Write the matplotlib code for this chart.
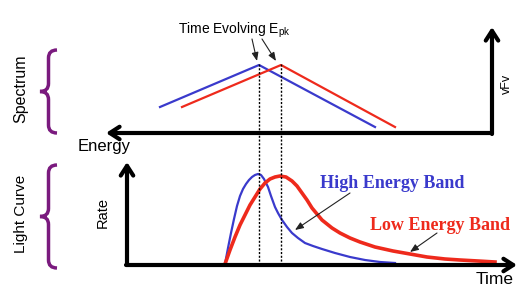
import matplotlib.pyplot as plt
from matplotlib.path import Path
from matplotlib.patches import PathPatch

# spectrum (broken power law), pixel positions
blue_spec_x = [160, 259, 375]
blue_spec_y = [107, 65, 127]
red_spec_x = [182, 281, 395]
red_spec_y = [107, 65, 127]

# light curves
blue_lc_x = [225, 228, 231, 234, 237, 240, 243, 246, 249, 252, 255, 258, 261, 264, 268,
             271, 275, 278, 282, 287, 292, 298, 305, 313, 322, 335, 350, 365, 380, 395]
blue_lc_y = [264, 248, 233, 219, 206, 196, 189, 184, 180, 177, 175, 174, 175, 179, 187,
             196, 207, 213, 220, 227, 233, 238, 243, 246, 249, 253, 257, 260, 262, 263]
red_lc_x = [225, 230, 235, 240, 245, 250, 255, 260, 265, 270, 275, 280, 286, 292, 297,
            302, 307, 312, 317, 322, 327, 332, 340, 350, 360, 375, 393, 410, 427, 445,
            460, 478, 495]
red_lc_y = [264, 250, 237, 225, 215, 205, 197, 189, 183, 179, 177, 176, 177, 181, 186,
            193, 200, 208, 214, 220, 224, 228, 233, 238, 242, 247, 251, 254, 257, 259,
            260, 261, 262]

peak_x = [259, 281]

PURPLE = '#7a1a7e'
BLUE = '#3a3acc'
RED = '#ee2a1c'

fig = plt.figure(figsize=(5.25, 2.89), dpi=100)
ax = fig.add_axes([0, 0, 1, 1])
ax.set_xlim(0, 525)
ax.set_ylim(289, 0)
ax.axis('off')


def brace(x_tip, x_end, y0, y1):
    ym = (y0 + y1) / 2
    xm = (x_tip + x_end) / 2
    verts = [(x_end, y0), (xm, y0), (xm, y0 + 8),
             (xm, ym - 8), (xm, ym), (x_tip, ym),
             (xm, ym), (xm, ym + 8),
             (xm, y1 - 8), (xm, y1), (x_end, y1)]
    codes = [Path.MOVETO, Path.CURVE3, Path.CURVE3,
             Path.LINETO, Path.CURVE3, Path.CURVE3,
             Path.CURVE3, Path.CURVE3,
             Path.LINETO, Path.CURVE3, Path.CURVE3]
    ax.add_patch(PathPatch(Path(verts, codes), fc='none', ec=PURPLE, lw=2.5))


def axis_arrow(x0, y0, x1, y1):
    ax.annotate('', xy=(x1, y1), xytext=(x0, y0),
                arrowprops=dict(arrowstyle='->, head_length=0.7, head_width=0.45',
                                lw=3, color='black', shrinkA=0, shrinkB=0))


def thin_arrow(x0, y0, x1, y1):
    ax.annotate('', xy=(x1, y1), xytext=(x0, y0),
                arrowprops=dict(arrowstyle='-|>, head_length=0.5, head_width=0.2',
                                lw=0.8, color='#222222', shrinkA=0, shrinkB=0))


# spectrum panel
axis_arrow(492, 133, 106, 133)
axis_arrow(492, 134, 492, 27)
ax.plot(blue_spec_x, blue_spec_y, color=BLUE, lw=1.6)
ax.plot(red_spec_x, red_spec_y, color=RED, lw=1.6)

# light curve panel
axis_arrow(127, 265, 127, 162)
axis_arrow(126, 265, 517, 265)
ax.plot(blue_lc_x, blue_lc_y, color=BLUE, lw=1.6, solid_joinstyle='round')
ax.plot(red_lc_x, red_lc_y, color=RED, lw=2.6, solid_joinstyle='round')

for px in peak_x:
    ax.plot([px, px], [64, 264], color='black', lw=1, ls=(0, (1.5, 1.2)))

# braces and side labels
brace(40, 57, 50, 133)
brace(40, 57, 165, 268)
ax.text(21, 89, 'Spectrum', rotation=90, ha='center', va='center',
        family='Liberation Sans', fontsize=11.5)
ax.text(21, 214, 'Light Curve', rotation=90, ha='center', va='center',
        family='Liberation Sans', fontsize=11)
ax.text(103, 212, 'Rate', rotation=90, ha='center', va='center',
        family='Liberation Sans', fontsize=10.5)
ax.text(507, 84, 'vFv', rotation=90, ha='center', va='center',
        family='Liberation Sans', fontsize=9)
ax.text(78, 146, 'Energy', ha='left', va='center', family='Liberation Sans', fontsize=12)
ax.text(476, 280, 'Time', ha='left', va='center', family='Liberation Sans', fontsize=12.5)

# annotations
ax.text(178, 30, r'Time Evolving E$_{\mathregular{pk}}$', ha='left', va='center',
        family='Liberation Sans', fontsize=10)
thin_arrow(252, 39, 257, 61)
thin_arrow(262, 39, 276, 61)

ax.text(320, 183, 'High Energy Band', ha='left', va='center', color=BLUE,
        family='Liberation Serif', fontweight='bold', fontsize=13)
ax.text(370, 225, 'Low Energy Band', ha='left', va='center', color=RED,
        family='Liberation Serif', fontweight='bold', fontsize=13, clip_on=False)
thin_arrow(350, 193, 295, 230)
thin_arrow(437, 233, 410, 252)

fig.savefig('out.png', dpi=100)
